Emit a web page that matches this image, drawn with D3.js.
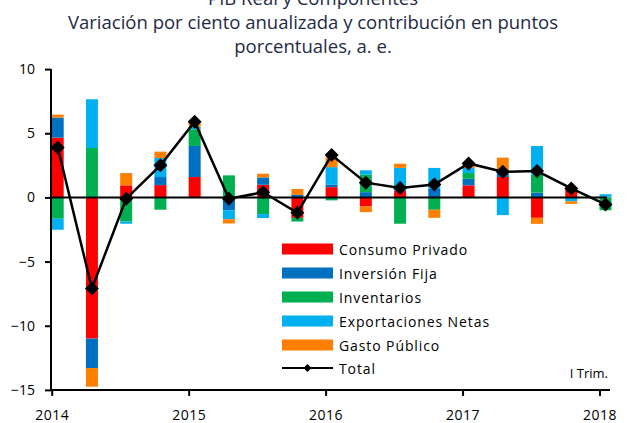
<!DOCTYPE html>
<html>
<head>
<meta charset="utf-8">
<script src="https://cdn.jsdelivr.net/npm/d3@7"></script>
<style>
  body { margin: 0; background: #fff; }
  text { font-family: "Open Sans", "Noto Sans", sans-serif; }
</style>
</head>
<body>
<svg id="chart" width="627" height="423"></svg>
<script>
// periods as decimal years, one per quarter (2014 I .. 2018 I)
var periods = [2014, 2014.25, 2014.5, 2014.75,
               2015, 2015.25, 2015.5, 2015.75,
               2016, 2016.25, 2016.5, 2016.75,
               2017, 2017.25, 2017.5, 2017.75,
               2018];
var seriesNames = ["Consumo Privado", "Inversión Fija", "Inventarios", "Exportaciones Netas", "Gasto Público"];
var seriesColors = ["#ff0000", "#0070c0", "#00b050", "#00b0f0", "#ff8000"];

var consumo       = [4.66, -11.0, 0.94, 0.96, 1.59, 0, 0.99, -1.59, 0.8, -0.7, 0.5, 0, 0.94, 1.59, -1.59, 0.6, 0];
var inversion     = [1.56, -2.3, 0, 0.63, 2.42, -1.0, 0.57, 0.19, 0.21, 0.41, 0, 0.66, 0.51, 0.52, 0.37, 0, 0.05];
var inventarios   = [-1.66, 3.85, -1.87, -0.96, 1.3, 1.72, -1.3, -0.29, -0.23, 1.36, -2.05, -0.96, 0.45, -0.05, 1.41, 0.1, -1.0];
var exportaciones = [-0.86, 3.8, -0.18, 1.48, 0.18, -0.7, -0.31, 0, 1.35, 0.34, 1.8, 1.64, 0.39, -1.33, 2.23, -0.3, 0.2];
var gasto         = [0.23, -1.45, 0.96, 0.5, 0.31, -0.33, 0.29, 0.47, 0.78, -0.45, 0.33, -0.63, 0.23, 0.99, -0.47, -0.2, 0];
var total         = [3.9, -7.1, -0.1, 2.5, 5.9, -0.1, 0.4, -1.2, 3.3, 1.15, 0.73, 1.0, 2.65, 2.0, 2.05, 0.7, -0.55];

var yearTicks = [2014, 2015, 2016, 2017, 2018];
var yTicks = [10, 5, 0, -5, -10, -15];
var titleLines = ["PIB Real y Componentes",
                  "Variación por ciento anualizada y contribución en puntos",
                  "porcentuales, a. e."];

var margins = {top: 69, left: 51, right: 610, bottom: 390};
var barWidth = 12;
var barShift = 6;

function main(){
  var svg = d3.select("#chart");

  var rows = periods.map(function(p, i){
    return {period: p, c: consumo[i], inv: inversion[i], ie: inventarios[i], x: exportaciones[i], g: gasto[i]};
  });
  var keys = ["c", "inv", "ie", "x", "g"];

  var xScale = d3.scaleLinear().domain([2014, 2018]).range([51.7, 599.5]);
  var yScale = d3.scaleLinear().domain([-15, 10]).range([389.9, 69.1]);

  // title
  svg.append("g").selectAll("text")
    .data(titleLines)
    .join("text")
      .attr("x", 313)
      .attr("y", function(d, i){ return 5 + i * 24; })
      .attr("text-anchor", "middle")
      .style("font-size", "18.5px")
      .style("fill", "#1d2b45")
      .text(function(d){ return d; });

  // stacked bars
  var stack = d3.stack().keys(keys).offset(d3.stackOffsetDiverging);
  var layers = stack(rows);
  svg.append("g").selectAll("g")
    .data(layers)
    .join("g")
      .attr("fill", function(d, i){ return seriesColors[i]; })
    .selectAll("rect")
    .data(function(d){ return d; })
    .join("rect")
      .attr("x", function(d){ return xScale(d.data.period) + barShift - barWidth / 2; })
      .attr("width", barWidth)
      .attr("y", function(d){ return yScale(Math.max(d[0], d[1])); })
      .attr("height", function(d){ return Math.abs(yScale(d[0]) - yScale(d[1])); });

  // zero line
  svg.append("line")
    .attr("x1", margins.left).attr("x2", 607)
    .attr("y1", yScale(0)).attr("y2", yScale(0))
    .style("stroke", "#000").style("stroke-width", 2);

  // y axis
  var yAxis = svg.append("g")
    .attr("transform", "translate(" + margins.left + ",0)")
    .call(d3.axisLeft(yScale).tickValues(yTicks).tickSize(6).tickPadding(10).tickFormat(d3.format("d")));
  yAxis.select(".domain").attr("d", "M0," + yScale(10) + "V" + yScale(-15)).style("stroke-width", 2);
  yAxis.selectAll(".tick line").style("stroke-width", 2);
  yAxis.selectAll("text").style("font-size", "14px").style("fill", "#000").attr("font-family", null);

  // x axis
  var xAxis = svg.append("g")
    .attr("transform", "translate(0," + yScale(-15) + ")")
    .call(d3.axisBottom(xScale).tickValues(yearTicks).tickSize(6).tickPadding(14).tickFormat(d3.format("d")));
  xAxis.select(".domain").attr("d", "M" + margins.left + ",0H" + margins.right).style("stroke-width", 2);
  xAxis.selectAll(".tick line").style("stroke-width", 2);
  xAxis.selectAll("text").style("font-size", "14px").style("fill", "#000").style("letter-spacing", "0.5px").attr("font-family", null);

  // total line with diamonds
  var line = d3.line()
    .x(function(d, i){ return xScale(periods[i]) + barShift; })
    .y(function(d){ return yScale(d); });
  svg.append("path")
    .datum(total)
    .attr("d", line)
    .style("fill", "none").style("stroke", "#000").style("stroke-width", 2.5);

  var diamond = "M0,-7L7,0L0,7L-7,0Z";
  svg.append("g").selectAll("path")
    .data(total)
    .join("path")
      .attr("d", diamond)
      .attr("transform", function(d, i){ return "translate(" + (xScale(periods[i]) + barShift) + "," + yScale(d) + ")"; })
      .style("fill", "#000");

  // legend
  var legend = svg.append("g").attr("transform", "translate(282,249)");
  seriesNames.forEach(function(name, i){
    var row = legend.append("g").attr("transform", "translate(0," + (i * 24) + ")");
    row.append("rect").attr("x", 0).attr("y", -5.5).attr("width", 51).attr("height", 11).attr("fill", seriesColors[i]);
    row.append("text").attr("x", 57).attr("y", 5.5)
      .style("font-size", "14px").style("letter-spacing", "0.9px").text(name);
  });
  var tRow = legend.append("g").attr("transform", "translate(0," + (5 * 24 - 1) + ")");
  tRow.append("line").attr("x1", 0).attr("x2", 51).attr("y1", 0).attr("y2", 0)
    .style("stroke", "#000").style("stroke-width", 2);
  tRow.append("path").attr("d", "M0,-4L4,0L0,4L-4,0Z").attr("transform", "translate(25.5,0)").style("fill", "#000");
  tRow.append("text").attr("x", 57).attr("y", 5.5)
    .style("font-size", "14px").style("letter-spacing", "0.9px").text("Total");

  svg.append("text")
    .attr("x", 608).attr("y", 378)
    .attr("text-anchor", "end")
    .style("font-size", "13px")
    .text("I Trim.");
}

main();
</script>
</body>
</html>
